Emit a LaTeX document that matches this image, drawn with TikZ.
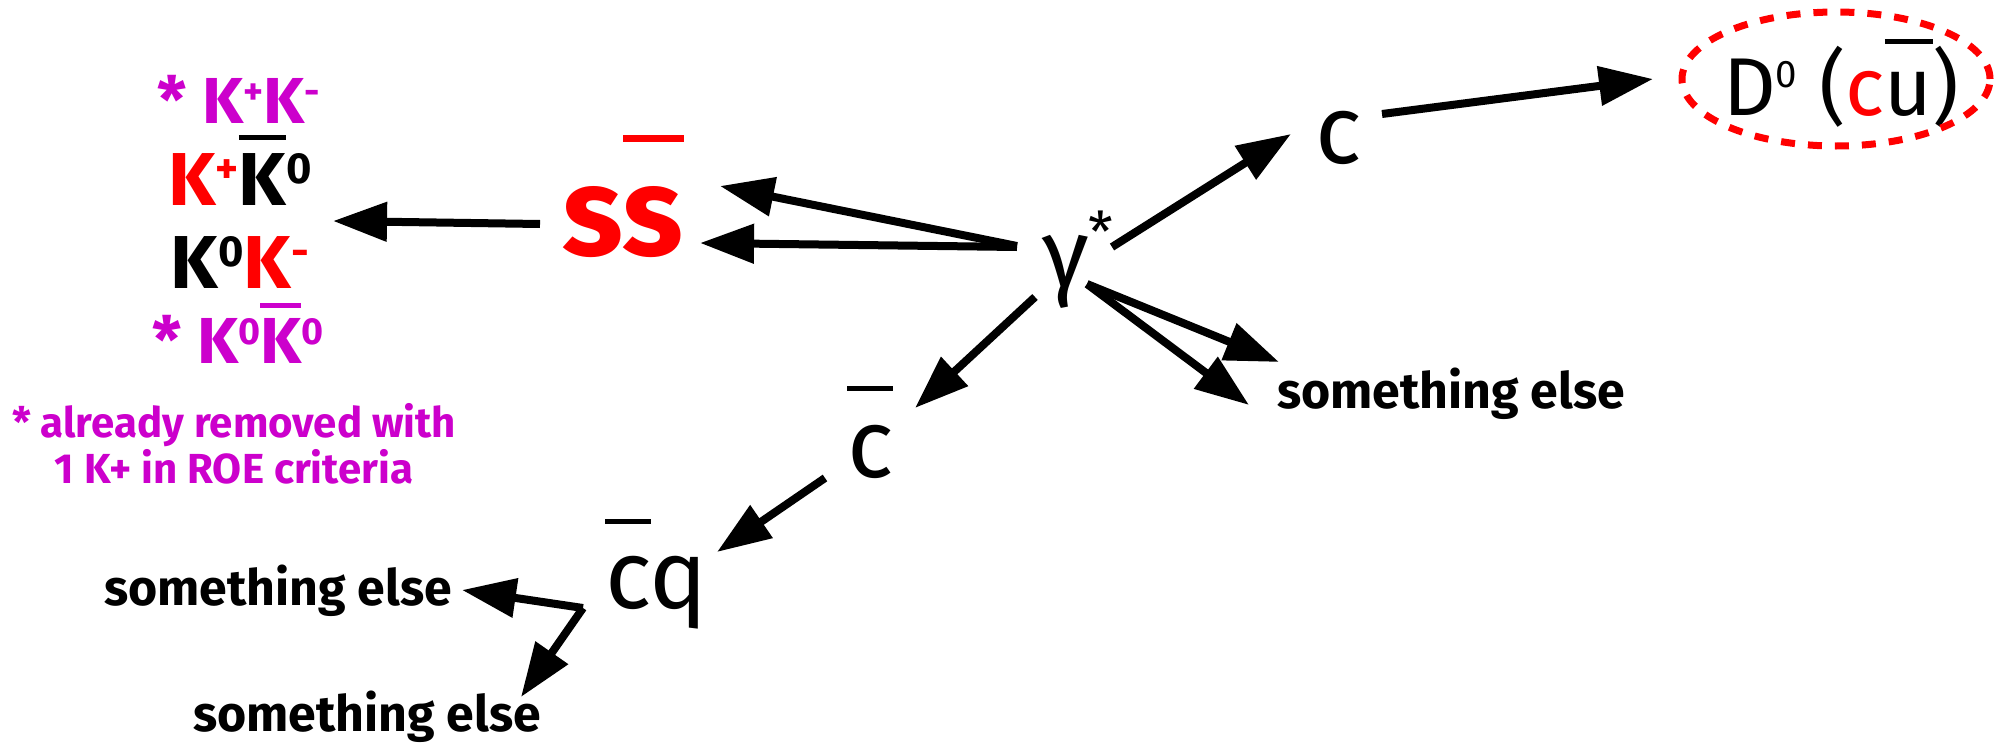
\documentclass[tikz,border=0pt]{standalone}
\usepackage{fontspec}
\setmainfont{Fira Sans}
\usetikzlibrary{arrows.meta}
\definecolor{kred}{RGB}{255,0,0}
\definecolor{kmag}{RGB}{204,0,204}
\newlength\barw
% \ob[thickness]{raise}{text}: overbar
\newcommand\ob[3][5pt]{\settowidth\barw{#3}\makebox[0pt][l]{\raisebox{#2}{\rule{\barw}{#1}}}#3}
% \sps{raise}{scale}{text}: superscript
\newcommand\sps[3]{\raisebox{#1}{\scalebox{#2}{#3}}}
\newcommand\ksp[1]{\sps{0.29em}{0.58}{#1}}
\begin{document}
\begin{tikzpicture}[x=1pt,y=-1pt,
  lab/.style={inner sep=0pt,outer sep=0pt},
  quark/.style={lab,font=\fontsize{97}{97}\selectfont},
  dzero/.style={lab,font=\fontsize{82}{82}\selectfont},
  kbig/.style={lab,font=\bfseries\fontsize{75}{75}\selectfont},
  ksmall/.style={lab,text=kmag,font=\bfseries\fontsize{65}{65}\selectfont},
  strange/.style={lab,text=kred,font=\bfseries\fontsize{126}{126}\selectfont},
  else/.style={lab,font=\bfseries\fontsize{50}{50}\selectfont},
  note/.style={lab,text=kmag,align=center,font=\bfseries\fontsize{42}{46}\selectfont},
  arr/.style={line width=8pt,-{Triangle[length=54pt,width=38pt]}},
  ellip/.style={draw=kred,line width=7pt,dash pattern=on 14pt off 13pt}]
\fill[white] (0,0) rectangle (2004,744);
\useasboundingbox (0,0) rectangle (2004,744);

% kaon list
\node[ksmall,anchor=base] (k1) at (239,123) {* K\ksp{+}K\ksp{-}};
\node[kbig,anchor=base] (k2) at (240,205) {{\color{kred}K\ksp{+}}\ob{0.87em}{K}\ksp{0}};
\node[kbig,anchor=base] (k3) at (240,288) {K\ksp{0}{\color{kred}K\ksp{-}}};
\node[ksmall,anchor=base] (k4) at (238,363) {* K\ksp{0}\ob{0.85em}{K}\ksp{0}};
\node[note,anchor=base] (nt) at (234,483) {* already removed with\\1 K+ in ROE criteria};

% quarks
\node[strange,anchor=base west] (ss) at (562,255) {s\ob[7pt]{0.9em}{s}};
\node[quark,anchor=base west] (gam) at (1042,287) {γ\sps{0.36em}{0.58}{*}};
\node[quark,anchor=base west] (c) at (1315,163) {c};
\node[dzero,anchor=base west] (d0) at (1723,115) {D\sps{0.33em}{0.47}{0} ({\color{kred}c}\ob{0.86em}{u})};
\node[quark,anchor=base west] (cb) at (847,477) {\ob{0.89em}{c}};
\node[quark,anchor=base west] (cq) at (605,608) {\ob{0.87em}{c}q};
\node[else,anchor=base west] (se1) at (1277,408) {something else};
\node[else,anchor=base west] (se2) at (104,605) {something else};
\node[else,anchor=base west] (se3) at (193,731) {something else};

\draw[ellip] (1836,79) ellipse [x radius=154pt,y radius=67pt];

% connector ends
\coordinate (ss-out) at (540,224);
\coordinate (k-in) at (333,221);
\coordinate (gam-w1) at (1017,246);
\coordinate (gam-w2) at (1017,247);
\coordinate (ss-in1) at (720,186);
\coordinate (ss-in2) at (700,243);
\coordinate (gam-ne) at (1112,247);
\coordinate (c-in) at (1291,134);
\coordinate (c-out) at (1382,114);
\coordinate (d0-in) at (1653,79);
\coordinate (gam-sw) at (1035,297);
\coordinate (cb-in) at (915,408);
\coordinate (gam-se) at (1087,284);
\coordinate (se1-in1) at (1279,362);
\coordinate (se1-in2) at (1249,405);
\coordinate (cb-out) at (825,478);
\coordinate (cq-in) at (717,552);
\coordinate (cq-out) at (583,608);
\coordinate (se2-in) at (462,590);
\coordinate (se3-in) at (521,697);

\draw[arr] (ss-out) -- (k-in);
\draw[arr] (gam-w1) -- (ss-in1);
\draw[arr] (gam-w2) -- (ss-in2);
\draw[arr] (gam-ne) -- (c-in);
\draw[arr] (c-out) -- (d0-in);
\draw[arr] (gam-sw) -- (cb-in);
\draw[arr] (gam-se) -- (se1-in1);
\draw[arr] (gam-se) -- (se1-in2);
\draw[arr] (cb-out) -- (cq-in);
\draw[arr] (cq-out) -- (se2-in);
\draw[arr] (cq-out) -- (se3-in);
\end{tikzpicture}
\end{document}
